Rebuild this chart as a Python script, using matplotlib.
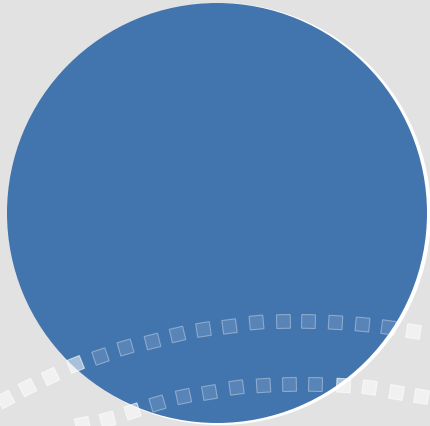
import matplotlib
matplotlib.use('Agg')
import matplotlib.pyplot as plt
import numpy as np

# single series, one slice filling the whole disc
labels = ['Total']
values = [100]

# decorative dotted arcs (pixel positions)
arc1_x = [5, 27, 50, 75, 100, 125, 152, 177, 203, 229, 256, 283, 308, 335, 362, 388, 413]
arc1_y = [400, 388, 377, 365, 357, 348, 342, 335, 330, 327, 323, 322, 322, 323, 325, 328, 332]
arc2_x = [82, 107, 132, 157, 183, 209, 236, 263, 289, 315, 343, 369, 396, 421]
arc2_y = [425, 420, 412, 404, 397, 393, 388, 386, 385, 385, 386, 388, 393, 397]

CX, CY, R = 217, 214, 210


def main():
    fig = plt.figure(figsize=(4.30, 4.27), dpi=100)
    fig.patch.set_facecolor('#e2e2e2')
    ax = fig.add_axes([0, 0, 1, 1])
    ax.set_facecolor('#e2e2e2')

    # white rim slightly behind the disc
    ax.pie([1], colors=['white'], center=(CX + 3, CY + 1), radius=R + 1,
           startangle=90, frame=True)
    ax.pie(values, colors=['#4274ae'], center=(CX, CY), radius=R,
           startangle=90, frame=True)

    for xs, ys in [(arc1_x, arc1_y), (arc2_x, arc2_y)]:
        ang = np.degrees(np.arctan2(-np.gradient(ys), np.gradient(xs)))
        for x, y, a in zip(xs, ys, ang):
            inside = (x - CX) ** 2 + (y - CY) ** 2 < (R - 4) ** 2
            if inside:
                fc, ec = (1, 1, 1, 0.12), (1, 1, 1, 0.35)
            else:
                fc, ec = (1, 1, 1, 0.55), (1, 1, 1, 0.6)
            ax.plot(x, y, marker=(4, 0, 45 + a), markersize=14,
                    markerfacecolor=fc, markeredgecolor=ec,
                    markeredgewidth=0.8, linestyle='none', zorder=5)

    ax.set_xlim(0, 430)
    ax.set_ylim(427, 0)
    ax.set_aspect('auto')
    ax.axis('off')

    fig.savefig('out.png', dpi=100, facecolor=fig.get_facecolor())


if __name__ == '__main__':
    main()
